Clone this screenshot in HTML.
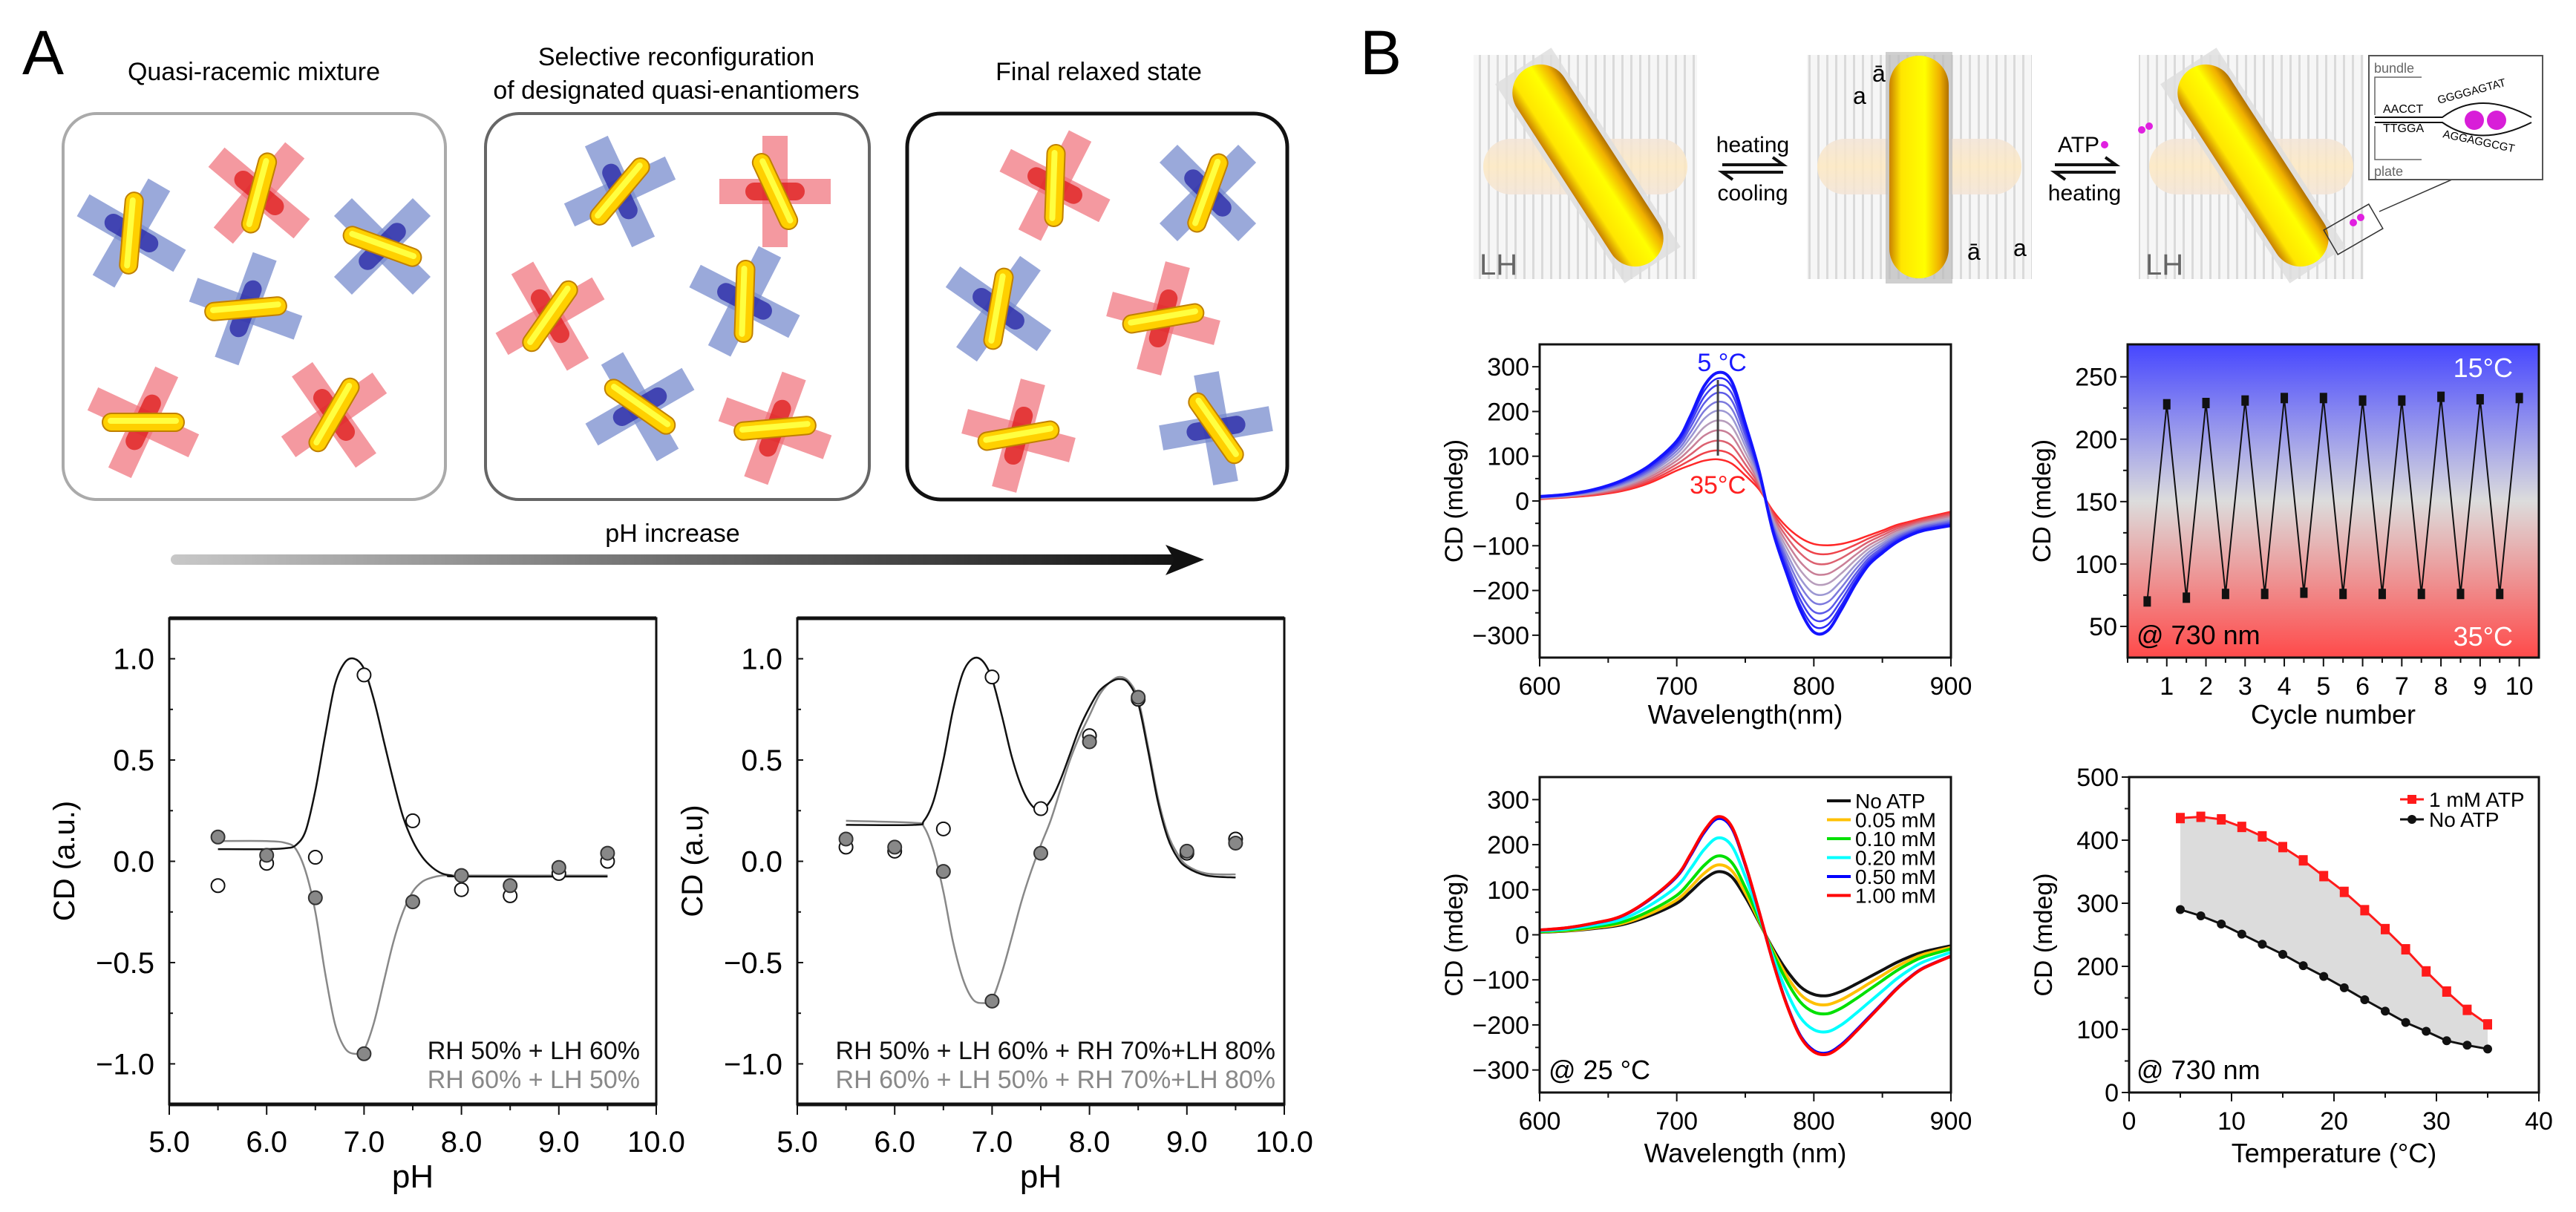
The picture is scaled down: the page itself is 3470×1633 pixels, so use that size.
<!DOCTYPE html>
<html><head><meta charset="utf-8"><style>
html,body{margin:0;padding:0;background:#fff}
svg{display:block}
text{font-family:"Liberation Sans Narrow","Liberation Sans",sans-serif}
.t{font-family:"Liberation Sans",sans-serif}
</style></head><body>
<svg id="fig" xmlns="http://www.w3.org/2000/svg" width="3470" height="1633" viewBox="0 0 3470 1633">
<defs>
<linearGradient id="gold" x1="0" y1="0" x2="1" y2="0">
<stop offset="0" stop-color="#c98000"/><stop offset="0.2" stop-color="#ffe600"/><stop offset="0.6" stop-color="#ffff00"/><stop offset="0.85" stop-color="#f0b000"/><stop offset="1" stop-color="#b07000"/></linearGradient>
<linearGradient id="arrowg" x1="0" y1="0" x2="1" y2="0"><stop offset="0" stop-color="#c8c8c8"/><stop offset="1" stop-color="#111"/></linearGradient>
<linearGradient id="cycbg" x1="0" y1="0" x2="0" y2="1"><stop offset="0" stop-color="#4646ff"/><stop offset="0.5" stop-color="#dcdcdc"/><stop offset="1" stop-color="#ff4a4a"/></linearGradient>
<pattern id="stripes" width="12" height="10" patternUnits="userSpaceOnUse"><rect width="12" height="10" fill="#f6f6f6"/><rect x="0" width="3" height="10" fill="#dadada"/></pattern>
<linearGradient id="pale" x1="0" y1="0" x2="0" y2="1"><stop offset="0" stop-color="#f3e4d6"/><stop offset="0.5" stop-color="#fde8c0"/><stop offset="1" stop-color="#f3e4d6"/></linearGradient>
</defs>

<!-- Panel A schematic -->
<text x="30" y="100" font-size="84" class="t">A</text>
<text x="342" y="108" font-size="34" text-anchor="middle">Quasi-racemic mixture</text>
<text x="911" y="88" font-size="34" text-anchor="middle">Selective reconfiguration</text>
<text x="911" y="133" font-size="34" text-anchor="middle">of designated quasi-enantiomers</text>
<text x="1480" y="108" font-size="34" text-anchor="middle">Final relaxed state</text>
<rect x="85" y="153" width="515" height="520" rx="45" fill="none" stroke="#aaa" stroke-width="4"/>
<rect x="654" y="153" width="517" height="520" rx="45" fill="none" stroke="#666" stroke-width="4"/>
<rect x="1222" y="153" width="512" height="520" rx="45" fill="none" stroke="#111" stroke-width="5"/>
<g id="rods"></g>
<text x="906" y="730" font-size="34" text-anchor="middle">pH increase</text>
<rect x="230" y="747" width="1370" height="14" rx="7" fill="url(#arrowg)"/>
<polygon points="1570,734 1622,754 1570,775 1582,754" fill="#111"/>

<!-- Panel B schematic -->
<text x="1832" y="100" font-size="84" class="t">B</text>
<g>
<rect x="1985" y="74" width="301" height="302" fill="url(#stripes)"/>
<rect x="1998" y="187" width="275" height="75" rx="37" fill="url(#pale)" opacity="0.85"/>
<g transform="translate(2139,223) rotate(-33)"><rect x="-45" y="-160" width="90" height="320" fill="#ddd" opacity="0.8"/><rect x="-38" y="-155" width="76" height="310" rx="38" fill="url(#gold)"/></g>
<text x="1993" y="370" font-size="40" fill="#666" class="t">LH</text>
</g>
<g>
<rect x="2434" y="74" width="303" height="302" fill="url(#stripes)"/>
<rect x="2448" y="187" width="275" height="75" rx="37" fill="url(#pale)" opacity="0.85"/>
<rect x="2540" y="70" width="90" height="312" fill="#bbb" opacity="0.7"/>
<rect x="2545" y="75" width="80" height="300" rx="40" fill="url(#gold)"/>
<text x="2496" y="140" font-size="32">a</text><text x="2522" y="110" font-size="32">ā</text>
<text x="2650" y="350" font-size="32">ā</text><text x="2712" y="345" font-size="32">a</text>
</g>
<g>
<rect x="2881" y="74" width="303" height="302" fill="url(#stripes)"/>
<rect x="2895" y="187" width="275" height="75" rx="37" fill="url(#pale)" opacity="0.85"/>
<g transform="translate(3035,223) rotate(-33)"><rect x="-45" y="-160" width="90" height="320" fill="#ddd" opacity="0.8"/><rect x="-38" y="-155" width="76" height="310" rx="38" fill="url(#gold)"/></g>
<circle cx="2885" cy="175" r="5" fill="#e020e0"/><circle cx="2895" cy="170" r="5" fill="#e020e0"/>
<circle cx="3170" cy="300" r="5" fill="#e020e0"/><circle cx="3180" cy="293" r="5" fill="#e020e0"/>
<rect x="3135" y="290" width="70" height="38" fill="none" stroke="#333" stroke-width="1.5" transform="rotate(-30 3170 309)"/>
<line x1="3205" y1="285" x2="3305" y2="241" stroke="#333" stroke-width="1.5"/>
<text x="2890" y="370" font-size="40" fill="#666" class="t">LH</text>
</g>
<g>
<rect x="3191" y="75" width="234" height="167" fill="#fff" stroke="#555" stroke-width="2"/>
<text x="3198" y="98" font-size="18" fill="#666" class="t">bundle</text>
<path d="M3199,155 V104 H3262" fill="none" stroke="#666" stroke-width="1.5"/>
<text x="3210" y="152" font-size="16" class="t">AACCT</text>
<text x="3210" y="178" font-size="16" class="t">TTGGA</text>
<text x="3285" y="140" font-size="15" class="t" transform="rotate(-15 3285 140)">GGGGAGTAT</text>
<text x="3290" y="185" font-size="15" class="t" transform="rotate(12 3290 185)">AGGAGGCGT</text>
<path d="M3199,158 H3290 Q3340,120 3410,158 M3199,165 H3290 Q3340,200 3410,165" fill="none" stroke="#111" stroke-width="2"/>
<circle cx="3333" cy="162" r="13" fill="#d81ed8"/><circle cx="3363" cy="162" r="13" fill="#d81ed8"/>
<path d="M3199,170 V215 H3262" fill="none" stroke="#666" stroke-width="1.5"/>
<text x="3198" y="237" font-size="18" fill="#666" class="t">plate</text>
</g>
<g>
<text x="2361" y="205" font-size="30" text-anchor="middle">heating</text>
<path d="M2320,222 H2402 L2388,212 M2402,232 H2320 L2334,242" fill="none" stroke="#111" stroke-width="4"/>
<text x="2361" y="270" font-size="30" text-anchor="middle">cooling</text>
</g>
<g>
<text x="2800" y="205" font-size="30" text-anchor="middle">ATP</text>
<circle cx="2835" cy="195" r="5" fill="#e020e0"/>
<path d="M2768,222 H2850 L2836,212 M2850,232 H2768 L2782,242" fill="none" stroke="#111" stroke-width="4"/>
<text x="2808" y="270" font-size="30" text-anchor="middle">heating</text>
</g>

<g id="charts"></g>
</svg>
<script>
// ---------- DATA ----------
const a1FitPH = [5.5,6.0,6.2,6.3,6.4,6.5,6.6,6.7,6.8,6.9,7.0,7.1,7.2,7.3,7.4,7.5,7.6,7.7,7.8,7.9,8.0,9.5];
const a1FitBlack = [0.06,0.06,0.065,0.08,0.15,0.35,0.62,0.87,0.98,1.0,0.95,0.8,0.6,0.4,0.22,0.1,0.02,-0.03,-0.06,-0.07,-0.075,-0.075];
const a1FitGrey = [0.1,0.1,0.09,0.06,-0.05,-0.25,-0.55,-0.8,-0.92,-0.95,-0.93,-0.8,-0.6,-0.4,-0.25,-0.15,-0.1,-0.08,-0.07,-0.07,-0.07,-0.07];
const a1PtsPH = [5.5,6.0,6.5,7.0,7.5,8.0,8.5,9.0,9.5];
const a1Open = [-0.12,-0.01,0.02,0.92,0.2,-0.14,-0.17,-0.06,0.0];
const a1Filled = [0.12,0.03,-0.18,-0.95,-0.2,-0.07,-0.12,-0.03,0.04];
const a2FitPH = [5.5,6.2,6.3,6.4,6.5,6.6,6.7,6.8,6.9,7.0,7.1,7.2,7.3,7.4,7.5,7.6,7.7,7.8,7.9,8.0,8.1,8.2,8.3,8.4,8.5,8.6,8.7,8.8,8.9,9.0,9.2,9.5];
const a2FitBlack = [0.18,0.18,0.2,0.3,0.5,0.75,0.93,1.0,0.99,0.9,0.72,0.52,0.37,0.28,0.25,0.3,0.4,0.53,0.66,0.76,0.84,0.88,0.9,0.88,0.78,0.55,0.3,0.12,0.02,-0.03,-0.07,-0.08];
const a2FitGrey = [0.2,0.19,0.17,0.05,-0.15,-0.4,-0.58,-0.68,-0.7,-0.68,-0.55,-0.38,-0.2,-0.05,0.08,0.2,0.35,0.5,0.62,0.72,0.82,0.88,0.91,0.89,0.8,0.57,0.32,0.14,0.04,-0.02,-0.06,-0.065];
const a2Open = [0.07,0.05,0.16,0.91,0.26,0.62,0.8,0.04,0.11];
const a2Filled = [0.11,0.07,-0.05,-0.69,0.04,0.59,0.81,0.05,0.09];
const aXTicks = [5.0,6.0,7.0,8.0,9.0,10.0];
const aYTicks = [-1.0,-0.5,0.0,0.5,1.0];
const bWl = [600,620,640,660,680,700,710,720,730,740,750,760,770,780,790,800,810,820,830,840,850,860,870,880,900];
const bCold = [10,15,26,46,79,134,190,257,287,268,173,68,-66,-160,-243,-293,-290,-243,-188,-143,-116,-93,-77,-66,-55];
const bHot = [4,8,13,22,40,68,80,90,93,84,57,26,-21,-57,-82,-96,-99,-96,-88,-77,-66,-54,-46,-38,-24];
const bTemps = [5,8,11,14,17,20,23,26,29,32,35];
const bPeaks = [287,274,259,242,222,202,180,158,135,113,93];
const bYTicks = [-300,-200,-100,0,100,200,300];
const bXTicks = [600,700,800,900];
const cycX = [0.5,1,1.5,2,2.5,3,3.5,4,4.5,5,5.5,6,6.5,7,7.5,8,8.5,9,9.5,10];
const cycY = [70,228,73,229,76,231,76,233,77,233,76,231,76,231,76,234,76,232,76,233];
const cycXTicks = [1,2,3,4,5,6,7,8,9,10];
const cycYTicks = [50,100,150,200,250];
const atpLabels = ["No ATP","0.05 mM","0.10 mM","0.20 mM","0.50 mM","1.00 mM"];
const atpColors = ["#111111","#ffc000","#00e000","#00ffff","#0000ff","#ff0000"];
const atpPeaks = [140,155,175,215,258,262];
const atpTroughs = [135,155,175,215,262,265];
const atpShape = [0.04,0.06,0.1,0.16,0.3,0.5,0.68,0.88,1,0.92,0.6,0.2,-0.22,-0.58,-0.85,-0.98,-1,-0.93,-0.82,-0.7,-0.58,-0.46,-0.36,-0.28,-0.18];
const tempT = [5,7,9,11,13,15,17,19,21,23,25,27,29,31,33,35];
const tempATP = [435,437,433,421,406,389,368,343,318,289,259,227,192,160,131,108];
const tempNo = [290,280,267,251,235,219,201,184,166,147,129,111,97,82,75,69];
const tempXTicks = [0,10,20,30,40];
const tempYTicks = [0,100,200,300,400,500];

// ---------- helpers ----------
const NS = "http://www.w3.org/2000/svg";
const root = document.getElementById('charts');
function mk(tag, attrs, name, parent) {
  const el = document.createElementNS(NS, tag);
  for (const k in attrs) el.setAttribute(k, attrs[k]);
  
  
  (parent || root).appendChild(el);
  return el;
}
function txt(s, attrs, name, parent) { const e = mk('text', attrs, name, parent); e.textContent = s; return e; }
function lin(d0, d1, r0, r1) { return v => r0 + (v - d0) / (d1 - d0) * (r1 - r0); }
function smooth(p) {
  let d = 'M' + p[0][0].toFixed(1) + ',' + p[0][1].toFixed(1);
  for (let i = 0; i < p.length - 1; i++) {
    const p0 = p[i - 1] || p[i], p1 = p[i], p2 = p[i + 1], p3 = p[i + 2] || p2;
    const c1x = p1[0] + (p2[0] - p0[0]) / 6, c1y = p1[1] + (p2[1] - p0[1]) / 6;
    const c2x = p2[0] - (p3[0] - p1[0]) / 6, c2y = p2[1] - (p3[1] - p1[1]) / 6;
    d += 'C' + c1x.toFixed(1) + ',' + c1y.toFixed(1) + ' ' + c2x.toFixed(1) + ',' + c2y.toFixed(1) + ' ' + p2[0].toFixed(1) + ',' + p2[1].toFixed(1);
  }
  return d;
}
function frame(x0, y0, x1, y1, name, g) {
  mk('rect', {x: x0, y: y0, width: x1 - x0, height: y1 - y0, fill: 'none', stroke: '#111', 'stroke-width': 3}, name, g);
}

// ---------- Panel A charts ----------
function phChart(id, x0, x1, fitB, fitG, fitPH, open, filled, ylab, leg1, leg2, legX) {
  const g = mk('g', {}, id);
  const y0 = 833, y1 = 1488;
  const X = lin(5, 10, x0, x1), Y = lin(-1.2, 1.2, y1, y0);
  frame(x0, y0, x1, y1, id + '-frame', g);
  mk('line', {x1: x0, y1: y0, x2: x1, y2: y0, stroke: '#111', 'stroke-width': 5}, id + '-top-border', g);
  mk('line', {x1: x0, y1: y1, x2: x1, y2: y1, stroke: '#111', 'stroke-width': 5}, id + '-bottom-border', g);
  aXTicks.forEach(v => {
    mk('line', {x1: X(v), y1: y1, x2: X(v), y2: y1 + 14, stroke: '#111', 'stroke-width': 2}, 'x-tick', g);
    txt(v.toFixed(1), {x: X(v), y: 1552, 'font-size': 40, 'text-anchor': 'middle'}, 'x-tick-label', g);
  });
  for (let v = 5.5; v < 10; v += 1) mk('line', {x1: X(v), y1: y1, x2: X(v), y2: y1 + 8, stroke: '#111', 'stroke-width': 2}, 'x-minor-tick', g);
  aYTicks.forEach(v => {
    mk('line', {x1: x0, y1: Y(v), x2: x0 + 8, y2: Y(v), stroke: '#111', 'stroke-width': 2}, 'y-tick', g);
    txt((v < 0 ? '\u2212' : '') + Math.abs(v).toFixed(1), {x: x0 - 20, y: Y(v) + 14, 'font-size': 40, 'text-anchor': 'end'}, 'y-tick-label', g);
  });
  [-0.75,-0.25,0.25,0.75].forEach(v => mk('line', {x1: x0, y1: Y(v), x2: x0 + 5, y2: Y(v), stroke: '#111', 'stroke-width': 2}, 'y-minor-tick', g));
  txt('pH', {x: (x0 + x1) / 2, y: 1600, 'font-size': 44, 'text-anchor': 'middle'}, 'x-axis-title', g);
  txt(ylab, {x: 0, y: 0, 'font-size': 40, 'text-anchor': 'middle', class: 't', transform: `translate(${x0 - 128},1160) rotate(-90)`}, 'y-axis-title', g);
  mk('path', {d: smooth(fitPH.map((p, i) => [X(p), Y(fitG[i])])), fill: 'none', stroke: '#888', 'stroke-width': 2.5}, 'fit-curve-grey', g);
  mk('path', {d: smooth(fitPH.map((p, i) => [X(p), Y(fitB[i])])), fill: 'none', stroke: '#111', 'stroke-width': 2.5}, 'fit-curve-black', g);
  a1PtsPH.forEach((p, i) => {
    mk('circle', {cx: X(p), cy: Y(open[i]), r: 9, fill: '#fff', stroke: '#111', 'stroke-width': 2}, 'open-point', g);
    mk('circle', {cx: X(p), cy: Y(filled[i]), r: 9, fill: '#888', stroke: '#333', 'stroke-width': 2}, 'filled-point', g);
  });
  txt(leg1, {x: legX, y: 1427, 'font-size': 34, 'text-anchor': 'end', fill: '#111'}, 'legend-black', g);
  txt(leg2, {x: legX, y: 1466, 'font-size': 34, 'text-anchor': 'end', fill: '#888'}, 'legend-grey', g);
}
phChart('chart-a1', 228, 884, a1FitBlack, a1FitGrey, a1FitPH, a1Open, a1Filled, 'CD (a.u.)', 'RH 50% + LH 60%', 'RH 60% + LH 50%', 862);
phChart('chart-a2', 1074, 1730, a2FitBlack, a2FitGrey, a2FitPH, a2Open, a2Filled, 'CD (a.u)', 'RH 50% + LH 60% + RH 70%+LH 80%', 'RH 60% + LH 50% + RH 70%+LH 80%', 1718);

// ---------- Panel B charts ----------
function bAxes(g, x0, y0, x1, y1, X, Y, xt, yt, xlab, ylab, xlabY, fmtY, xMinor, yMinor) {
  frame(x0, y0, x1, y1, 'frame', g);
  xt.forEach(v => {
    mk('line', {x1: X(v), y1: y1, x2: X(v), y2: y1 + 12, stroke: '#111', 'stroke-width': 2}, 'x-tick', g);
    txt(String(v), {x: X(v), y: y1 + 50, 'font-size': 34, 'text-anchor': 'middle'}, 'x-tick-label', g);
  });
  (xMinor || []).forEach(v => mk('line', {x1: X(v), y1: y1, x2: X(v), y2: y1 + 7, stroke: '#111', 'stroke-width': 2}, 'x-minor-tick', g));
  yt.forEach(v => {
    mk('line', {x1: x0 - 10, y1: Y(v), x2: x0, y2: Y(v), stroke: '#111', 'stroke-width': 2}, 'y-tick', g);
    txt(fmtY(v), {x: x0 - 14, y: Y(v) + 12, 'font-size': 34, 'text-anchor': 'end'}, 'y-tick-label', g);
  });
  (yMinor || []).forEach(v => mk('line', {x1: x0 - 6, y1: Y(v), x2: x0, y2: Y(v), stroke: '#111', 'stroke-width': 2}, 'y-minor-tick', g));
  txt(xlab, {x: (x0 + x1) / 2, y: xlabY, 'font-size': 36, 'text-anchor': 'middle'}, 'x-axis-title', g);
  txt(ylab, {x: 0, y: 0, 'font-size': 34, 'text-anchor': 'middle', class: 't', transform: `translate(${x0 - 104},${(y0 + y1) / 2}) rotate(-90)`}, 'y-axis-title', g);
}
const fm = v => (v < 0 ? '\u2212' : '') + Math.abs(v);

(function () {
  const g = mk('g', {}, 'chart-b-temperature-spectra');
  const x0 = 2074, x1 = 2628, y0 = 464, y1 = 886;
  const X = lin(600, 900, x0, x1), Y = lin(-350, 350, y1, y0);
  const cb = [20, 20, 255], cm = [175, 170, 205], cr = [255, 40, 40];
  for (let i = bTemps.length - 1; i >= 0; i--) {
    const w = (bPeaks[0] - bPeaks[i]) / (bPeaks[0] - bPeaks[bPeaks.length - 1]);
    const col = w < 0.5 ? cb.map((c, k) => Math.round(c + (cm[k] - c) * w * 2)) : cm.map((c, k) => Math.round(c + (cr[k] - c) * (w - 0.5) * 2));
    const pts = bWl.map((wl, j) => [X(wl), Y(bCold[j] * (1 - w) + bHot[j] * w)]);
    mk('path', {d: smooth(pts), fill: 'none', stroke: `rgb(${col})`, 'stroke-width': i === 0 ? 4 : 2.5}, 'spectrum-' + bTemps[i] + 'C', g);
  }
  mk('line', {x1: X(730), y1: Y(bPeaks[0]) + 10, x2: X(730), y2: Y(bPeaks[bPeaks.length - 1]) - 5, stroke: '#444', 'stroke-width': 3}, 'peak-arrow', g);
  bAxes(g, x0, y0, x1, y1, X, Y, bXTicks, bYTicks, 'Wavelength(nm)', 'CD (mdeg)', 975, fm, [650, 750, 850], [-250, -150, -50, 50, 150, 250]);
  txt('5 °C', {x: X(733), y: 500, 'font-size': 34, fill: '#1a1aff', 'text-anchor': 'middle'}, 'label-5C', g);
  txt('35°C', {x: X(730), y: 665, 'font-size': 34, fill: '#ff2020', 'text-anchor': 'middle'}, 'label-35C', g);
})();

(function () {
  const g = mk('g', {}, 'chart-b-cycles');
  const x0 = 2866, x1 = 3420, y0 = 464, y1 = 886;
  const X = lin(0, 10.5, x0, x1), Y = lin(25, 276, y1, y0);
  mk('rect', {x: x0, y: y0, width: x1 - x0, height: y1 - y0, fill: 'url(#cycbg)'}, 'temperature-gradient-bg', g);
  mk('path', {d: 'M' + cycX.map((c, i) => X(c).toFixed(1) + ',' + Y(cycY[i]).toFixed(1)).join('L'), fill: 'none', stroke: '#111', 'stroke-width': 2}, 'cycle-line', g);
  cycX.forEach((c, i) => mk('rect', {x: X(c) - 5, y: Y(cycY[i]) - 7, width: 10, height: 14, fill: '#111'}, 'cycle-point', g));
  bAxes(g, x0, y0, x1, y1, X, Y, cycXTicks, cycYTicks, 'Cycle number', 'CD (mdeg)', 975, fm, [0, 0.5, 1.5, 2.5, 3.5, 4.5, 5.5, 6.5, 7.5, 8.5, 9.5], [75, 125, 175, 225]);
  txt('15°C', {x: 3385, y: 508, 'font-size': 36, fill: '#fff', 'text-anchor': 'end'}, 'label-15C', g);
  txt('35°C', {x: 3385, y: 870, 'font-size': 36, fill: '#fff', 'text-anchor': 'end'}, 'label-35C', g);
  txt('@ 730 nm', {x: 2878, y: 868, 'font-size': 36}, 'label-730nm', g);
})();

(function () {
  const g = mk('g', {}, 'chart-b-atp-spectra');
  const x0 = 2074, x1 = 2628, y0 = 1047, y1 = 1472;
  const X = lin(600, 900, x0, x1), Y = lin(-350, 350, y1, y0);
  atpLabels.forEach((lab, i) => {
    const pts = bWl.map((wl, j) => [X(wl), Y(atpShape[j] * (atpShape[j] >= 0 ? atpPeaks[i] : atpTroughs[i]))]);
    mk('path', {d: smooth(pts), fill: 'none', stroke: atpColors[i], 'stroke-width': 4}, 'atp-spectrum', g);
    mk('line', {x1: 2461, y1: 1079 + i * 25.5, x2: 2493, y2: 1079 + i * 25.5, stroke: atpColors[i], 'stroke-width': 4}, 'legend-swatch', g);
    txt(lab, {x: 2499, y: 1089 + i * 25.5, 'font-size': 28}, 'legend-label', g);
  });
  bAxes(g, x0, y0, x1, y1, X, Y, bXTicks, bYTicks, 'Wavelength (nm)', 'CD (mdeg)', 1566, fm, [650, 750, 850], [-250, -150, -50, 50, 150, 250]);
  txt('@ 25 °C', {x: 2086, y: 1454, 'font-size': 36}, 'label-25C', g);
})();

(function () {
  const g = mk('g', {}, 'chart-b-temperature');
  const x0 = 2868, x1 = 3420, y0 = 1047, y1 = 1472;
  const X = lin(0, 40, x0, x1), Y = lin(0, 500, y1, y0);
  const upper = tempT.map((t, i) => X(t).toFixed(1) + ',' + Y(tempATP[i]).toFixed(1));
  const lower = tempT.map((t, i) => X(t).toFixed(1) + ',' + Y(tempNo[i]).toFixed(1)).reverse();
  mk('polygon', {points: upper.concat(lower).join(' '), fill: '#dcdcdc'}, 'difference-area', g);
  mk('polyline', {points: upper.join(' '), fill: 'none', stroke: '#ff1a1a', 'stroke-width': 3}, 'atp-line', g);
  mk('polyline', {points: lower.join(' '), fill: 'none', stroke: '#111', 'stroke-width': 3}, 'no-atp-line', g);
  tempT.forEach((t, i) => {
    mk('rect', {x: X(t) - 6, y: Y(tempATP[i]) - 7, width: 12, height: 14, fill: '#ff1a1a'}, 'atp-point', g);
    mk('circle', {cx: X(t), cy: Y(tempNo[i]), r: 6, fill: '#111'}, 'no-atp-point', g);
  });
  bAxes(g, x0, y0, x1, y1, X, Y, tempXTicks, tempYTicks, 'Temperature (°C)', 'CD (mdeg)', 1566, v => String(v), [5, 15, 25, 35], [50, 150, 250, 350, 450]);
  mk('line', {x1: 3233, y1: 1077, x2: 3265, y2: 1077, stroke: '#ff1a1a', 'stroke-width': 3}, 'legend-atp-swatch', g);
  mk('rect', {x: 3243, y: 1071, width: 12, height: 12, fill: '#ff1a1a'}, 'legend-atp-marker', g);
  txt('1 mM ATP', {x: 3272, y: 1087, 'font-size': 28}, 'legend-atp-label', g);
  mk('line', {x1: 3233, y1: 1104, x2: 3265, y2: 1104, stroke: '#111', 'stroke-width': 3}, 'legend-no-atp-swatch', g);
  mk('circle', {cx: 3249, cy: 1104, r: 6, fill: '#111'}, 'legend-no-atp-marker', g);
  txt('No ATP', {x: 3272, y: 1114, 'font-size': 28}, 'legend-no-atp-label', g);
  txt('@ 730 nm', {x: 2878, y: 1454, 'font-size': 36}, 'label-730nm', g);
})();

// ---------- Panel A schematic rods ----------
const rodCx = [177,349,515,331,193,450, 835,1044,741,1003,862,1044, 1421,1627,1345,1567,1372,1638];
const rodCy = [314,260,332,416,569,559, 258,258,426,406,548,577, 250,260,416,429,587,577];
const rodAngle = [-85,-75,20,-5,0,-60, -50,65,-55,-88,35,-5, -88,-70,-80,-10,-10,55];
const rodIsRed = [0,1,0,0,1,1, 0,1,1,0,0,1, 1,0,0,1,1,0];
const rodsG = document.getElementById('rods');
rodCx.forEach((cx, i) => {
  const g = mk('g', {transform: `translate(${cx},${rodCy[i]})`}, 'nanorod-assembly', rodsG);
  const bar = rodIsRed[i] ? 'rgba(240,110,120,0.7)' : 'rgba(120,140,205,0.75)';
  const blob = rodIsRed[i] ? '#e02020' : '#2a2aa8';
  const a = rodAngle[i];
  mk('rect', {x: -75, y: -17, width: 150, height: 34, fill: bar, transform: `rotate(${a + 25})`}, 'origami-bar', g);
  mk('rect', {x: -75, y: -17, width: 150, height: 34, fill: bar, transform: `rotate(${a + 115})`}, 'origami-bar', g);
  mk('rect', {x: -40, y: -12, width: 80, height: 24, rx: 12, fill: blob, opacity: 0.8, transform: `rotate(${a + 115})`}, 'hidden-rod', g);
  mk('rect', {x: -55, y: -12, width: 110, height: 24, rx: 12, fill: '#ffd000', stroke: '#c08000', 'stroke-width': 2, transform: `rotate(${a})`}, 'gold-rod', g);
  mk('rect', {x: -48, y: -6, width: 96, height: 8, rx: 4, fill: '#ffff40', transform: `rotate(${a})`}, 'rod-highlight', g);
});
</script>
</body></html>
